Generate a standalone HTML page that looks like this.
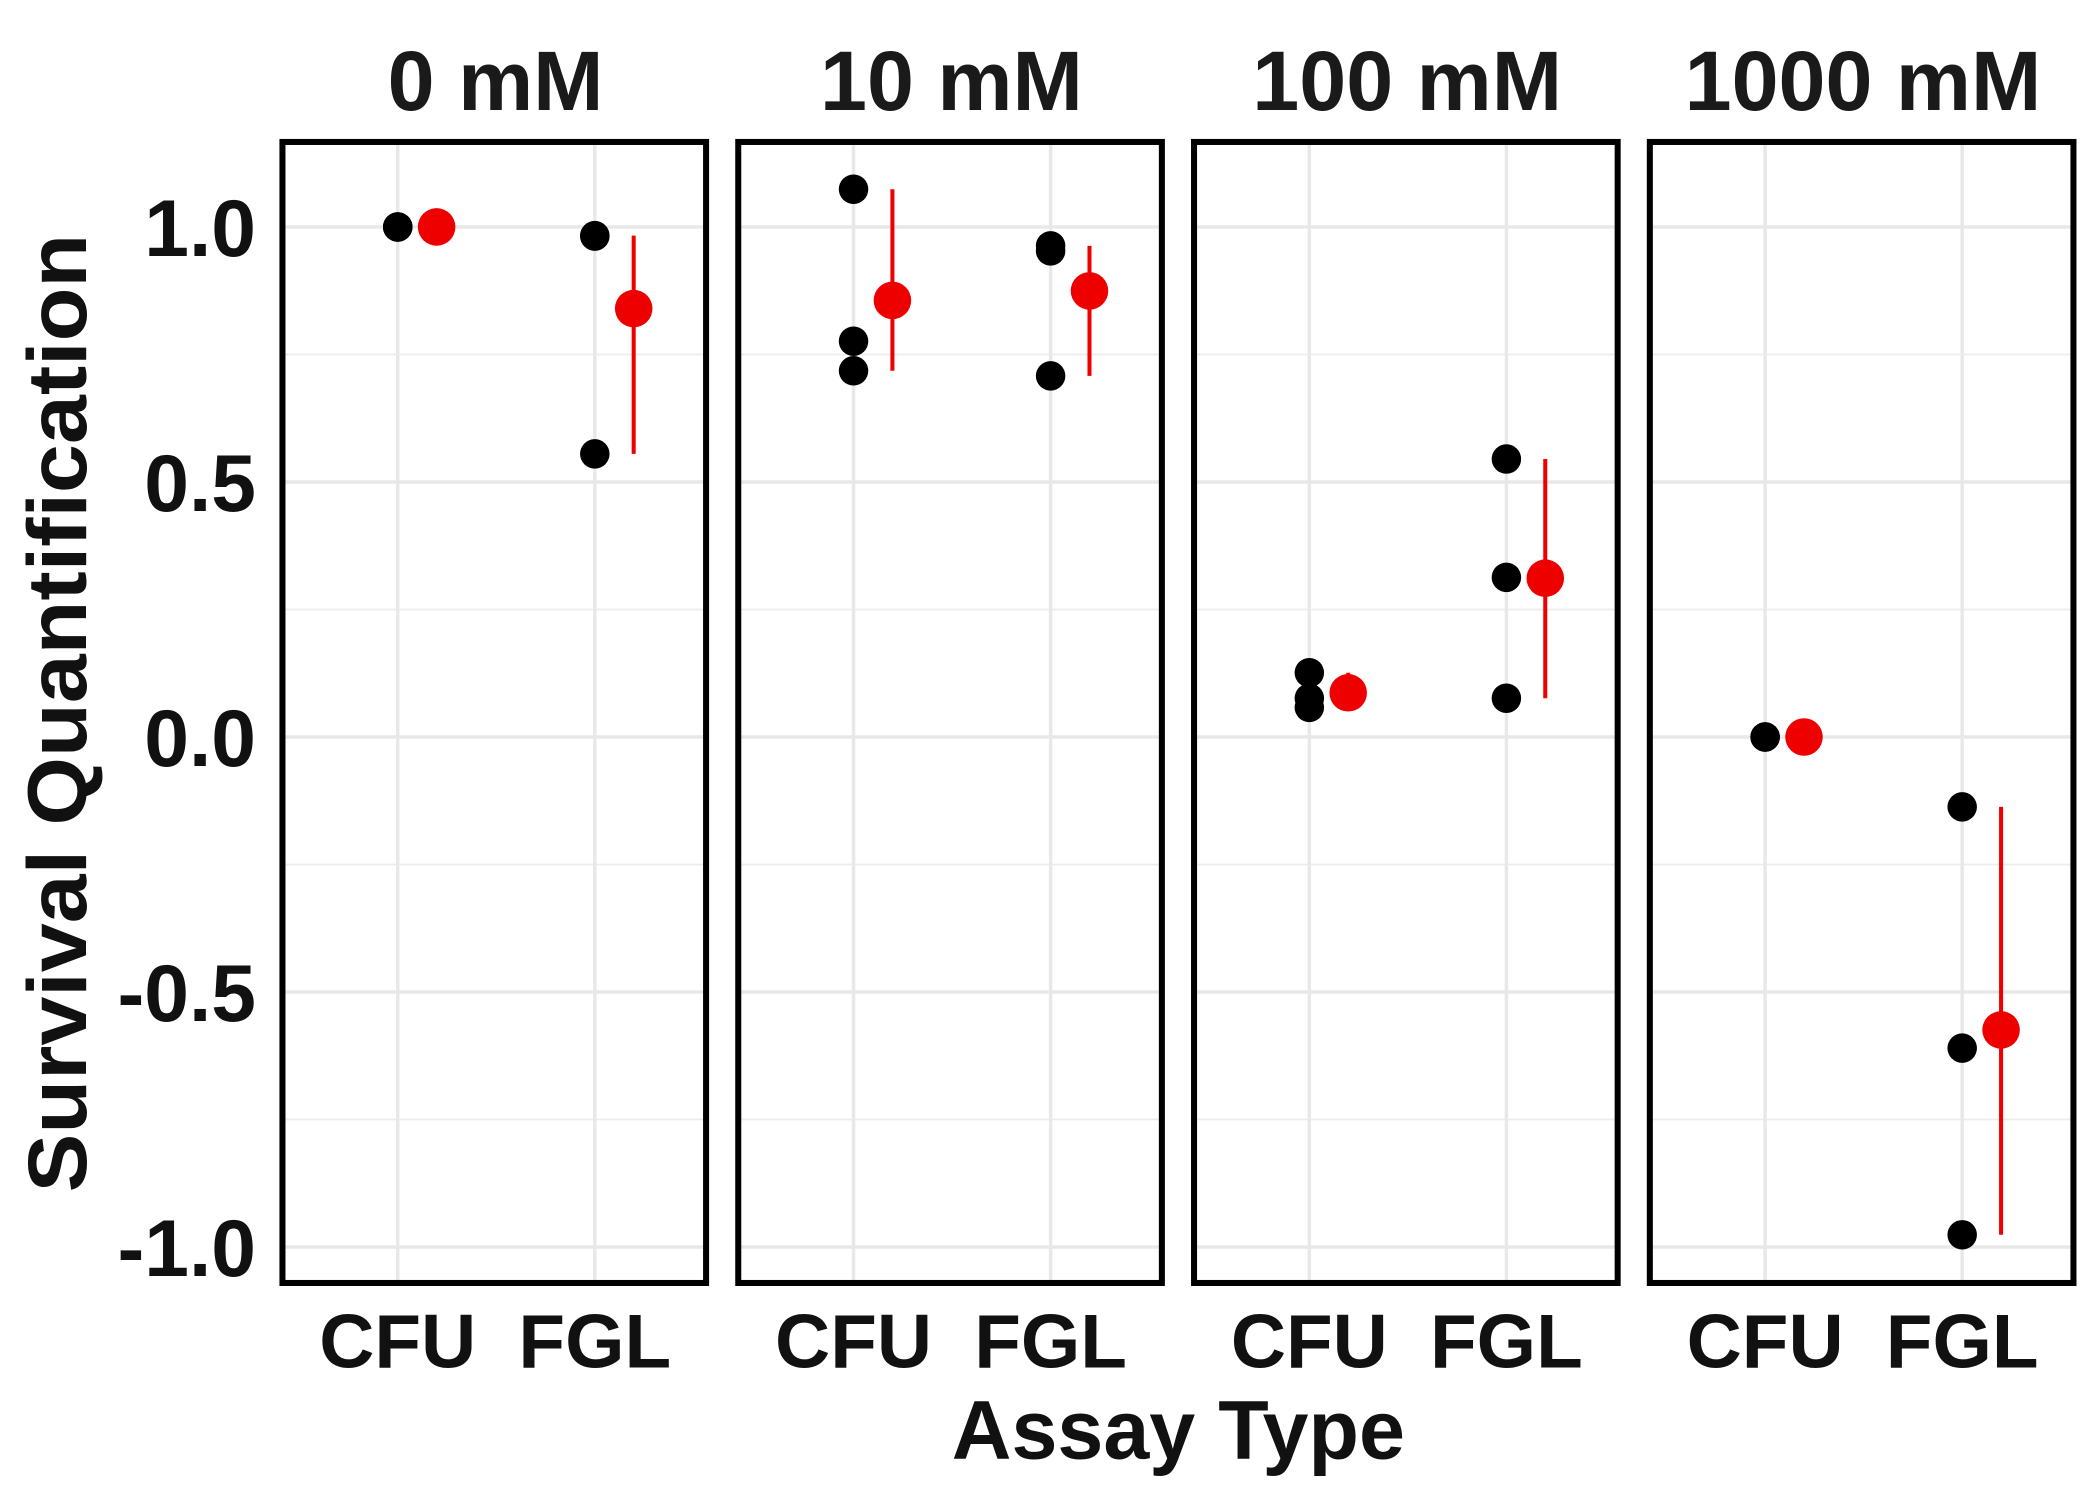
<!DOCTYPE html>
<html><head><meta charset="utf-8"><style>html,body{margin:0;padding:0;background:#fff}svg{display:block}</style></head>
<body>
<svg id="chart" width="2100" height="1500" viewBox="0 0 1566.5 1119" preserveAspectRatio="none" xmlns="http://www.w3.org/2000/svg" font-family="'Liberation Sans', 'DejaVu Sans', sans-serif" font-weight="bold"></svg>
<script>
const facets = ["0 mM", "10 mM", "100 mM", "1000 mM"];
const assays = ["CFU", "FGL"];
const cfuPoints = [[1.0, 1.0, 1.0], [1.074, 0.776, 0.718], [0.126, 0.076, 0.058], [0.0, 0.0, 0.0]];
const fglPoints = [[0.982, 0.983, 0.555], [0.963, 0.953, 0.708], [0.545, 0.313, 0.076], [-0.137, -0.61, -0.976]];
const yTicks = [1.0, 0.5, 0.0, -0.5, -1.0];
const yTickLabels = ["1.0", "0.5", "0.0", "-0.5", "-1.0"];
const yMinor = [0.75, 0.25, -0.25, -0.75];

const NS = "http://www.w3.org/2000/svg";
const svg = document.getElementById("chart");
function mk(tag, attrs, parent) {
  const e = document.createElementNS(NS, tag);
  for (const k in attrs) e.setAttribute(k, attrs[k]);
  (parent || svg).appendChild(e);
  return e;
}
const panelLeft = [210.7, 550.7, 890.7, 1230.7];
const panelW = 316, plotTop = 105.9, plotBottom = 957.1;
function y(v) { return 549.8 - v * 380.5; }
function x(p, i) { return panelLeft[p] + 86 + i * 147; }

yTicks.forEach((t, i) => {
  const tx = mk("text", {x: 191, y: y(t) + 21.5, "text-anchor": "end", "font-size": 60, fill: "#111"});
  
  
  tx.textContent = yTickLabels[i];
});
const yt = mk("text", {x: 0, y: 0, transform: "translate(64,532) rotate(-90)", "text-anchor": "middle", "font-size": 62, textLength: 715, lengthAdjust: "spacingAndGlyphs", fill: "#111"});


yt.textContent = "Survival Quantification";
const xt = mk("text", {x: 879, y: 1088, "text-anchor": "middle", "font-size": 62, textLength: 338, lengthAdjust: "spacingAndGlyphs", fill: "#111"});


xt.textContent = "Assay Type";

facets.forEach((f, p) => {
  const g = mk("g", {});
  
  
  const L = panelLeft[p];
  yMinor.forEach(t => {
    const l = mk("line", {x1: L, x2: L + panelW, y1: y(t), y2: y(t), stroke: "#ececec", "stroke-width": 1.3}, g);
    
    
  });
  yTicks.forEach(t => {
    const l = mk("line", {x1: L, x2: L + panelW, y1: y(t), y2: y(t), stroke: "#e8e8e8", "stroke-width": 2.6}, g);
    
    
  });
  assays.forEach((a, i) => {
    const l = mk("line", {x1: x(p, i), x2: x(p, i), y1: plotTop, y2: plotBottom, stroke: "#e8e8e8", "stroke-width": 2.6}, g);
    
    
    const lab = mk("text", {x: x(p, i), y: 1020, "text-anchor": "middle", "font-size": 57, fill: "#111"}, g);
    
    
    lab.textContent = a;
  });
  const title = mk("text", {x: L + panelW / 2 + 1, y: 82, "text-anchor": "middle", "font-size": 63, fill: "#1a1a1a"}, g);
  
  
  title.textContent = f;

  [cfuPoints[p], fglPoints[p]].forEach((pts, i) => {
    pts.forEach(v => {
      const c = mk("circle", {cx: x(p, i), cy: y(v), r: 11, fill: "#000"}, g);
      
      
    });
    const mean = pts.reduce((s, v) => s + v, 0) / pts.length;
    const mx = Math.max(...pts), mn = Math.min(...pts);
    const xm = x(p, i) + 29;
    const eb = mk("line", {x1: xm, x2: xm, y1: y(mx), y2: y(mn), stroke: "#ee0000", "stroke-width": 3}, g);
    
    
    const mc = mk("circle", {cx: xm, cy: y(mean), r: 14, fill: "#ee0000"}, g);
    
    
  });
  const border = mk("rect", {x: L, y: plotTop, width: panelW, height: plotBottom - plotTop, fill: "none", stroke: "#000", "stroke-width": 4.5}, g);
  
  
});
</script>
</body></html>
